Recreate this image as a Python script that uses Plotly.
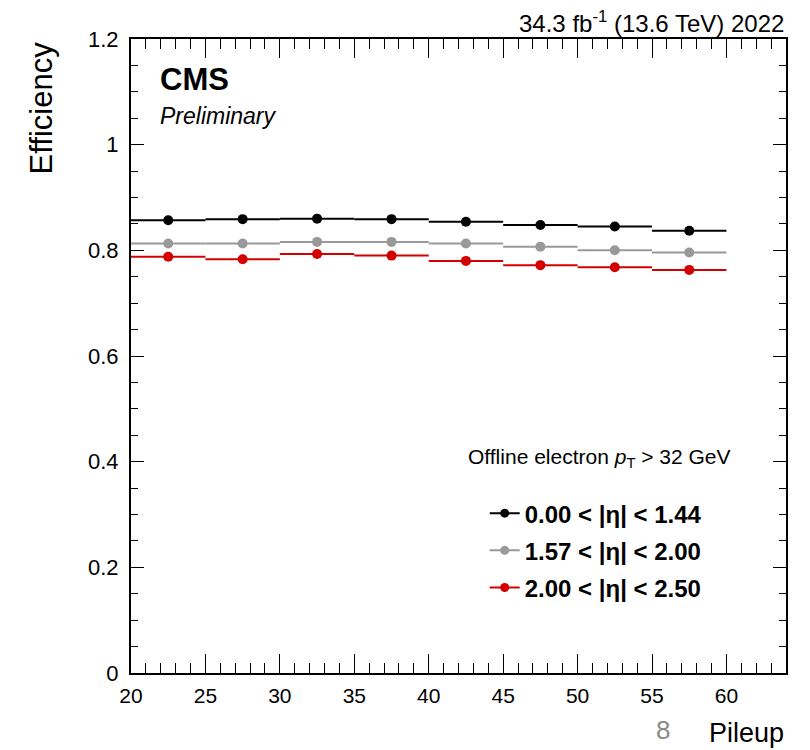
import plotly.graph_objects as go

# ---- data ----
bin_edges = [20, 25, 30, 35, 40, 45, 50, 55, 60]
eff_barrel = [0.857, 0.859, 0.860, 0.859, 0.854, 0.848, 0.845, 0.837]
eff_mid = [0.813, 0.813, 0.816, 0.816, 0.813, 0.807, 0.800, 0.796]
eff_fwd = [0.788, 0.783, 0.793, 0.790, 0.780, 0.772, 0.768, 0.763]
series_names = ["0.00 < |η| < 1.44", "1.57 < |η| < 2.00", "2.00 < |η| < 2.50"]
series_colors = ["#000000", "#999999", "#d40000"]
y_tick_vals = [0, 0.2, 0.4, 0.6, 0.8, 1.0, 1.2]
y_tick_text = ["0", "0.2", "0.4", "0.6", "0.8", "1", "1.2"]
x_tick_vals = [20, 25, 30, 35, 40, 45, 50, 55, 60]

centers = [(a + b) / 2 for a, b in zip(bin_edges[:-1], bin_edges[1:])]
halfw = [(b - a) / 2 for a, b in zip(bin_edges[:-1], bin_edges[1:])]

FONT = "Liberation Sans, Arial, Helvetica, sans-serif"

fig = go.Figure()
for i, (vals, name, col) in enumerate(zip([eff_barrel, eff_mid, eff_fwd], series_names, series_colors)):
    fig.add_trace(go.Scatter(
        x=centers, y=vals, mode="markers",
        marker=dict(color=col, size=10),
        error_x=dict(type="data", array=halfw, width=0, thickness=2, color=col),
        showlegend=False, hoverinfo="x+y",
    ))
    fig.add_trace(go.Scatter(
        x=[None], y=[None], mode="lines+markers", name="<b>" + name + "</b>",
        marker=dict(color=col, size=9), line=dict(color=col, width=2),
        legendgroup=f"g{i}",
    ))

fig.update_layout(
    width=810, height=750,
    margin=dict(l=131, r=24, t=39, b=77),
    plot_bgcolor="white", paper_bgcolor="white",
    font=dict(family=FONT, size=21, color="black"),
    showlegend=True,
    legend=dict(
        x=0.54, y=0.287, xanchor="left", yanchor="top",
        font=dict(size=24, family=FONT, color="black"),
        bgcolor="rgba(0,0,0,0)", tracegroupgap=3,
        traceorder="grouped",
    ),
    xaxis=dict(
        range=[20, 64], tickvals=x_tick_vals, ticks="inside", ticklen=19,
        tickwidth=1, tickcolor="black", showline=True, linecolor="black",
        linewidth=2, mirror="ticks", showgrid=False, zeroline=False,
        tickfont=dict(size=21, family=FONT), ticklabelstandoff=3,
        minor=dict(dtick=1, ticks="inside", ticklen=10, tickcolor="black", tickwidth=1, showgrid=False),
    ),
    yaxis=dict(
        range=[0, 1.2], tickvals=y_tick_vals, ticktext=y_tick_text,
        ticks="inside", ticklen=13, tickwidth=1, tickcolor="black",
        showline=True, linecolor="black", linewidth=2, mirror="ticks",
        showgrid=False, zeroline=False, tickfont=dict(size=22, family=FONT),
        ticklabelstandoff=6,
        minor=dict(dtick=0.05, ticks="inside", ticklen=7, tickcolor="black", tickwidth=1, showgrid=False),
    ),
)

ann = [
    dict(text="<b>CMS</b>", x=158, y=79, size=31),
    dict(text="<i>Preliminary</i>", x=158, y=116, size=23),
]
for a in ann:
    fig.add_annotation(xref="paper", yref="paper",
                       x=(a["x"] - 131) / 655, y=1 - (a["y"] - 39) / 634,
                       xanchor="left", yanchor="middle", showarrow=False,
                       font=dict(family=FONT, size=a["size"], color="black"),
                       text=a["text"])

fig.add_annotation(xref="paper", yref="paper", x=1, y=1, xanchor="right", yanchor="bottom",
                   yshift=0, showarrow=False,
                   text="34.3 fb<sup>-1</sup> (13.6 TeV) 2022",
                   font=dict(family=FONT, size=24, color="black"))
fig.add_annotation(xref="paper", yref="paper", x=(466 - 131) / 655, y=1 - (458 - 39) / 634,
                   xanchor="left", yanchor="middle", showarrow=False,
                   text="Offline electron <i>p</i><sub>T</sub> > 32 GeV",
                   font=dict(family=FONT, size=21, color="black"))
fig.add_annotation(xref="paper", yref="paper", x=-0.136, y=1, xanchor="center", yanchor="top",
                   textangle=-90, showarrow=False, text="Efficiency",
                   font=dict(family=FONT, size=31, color="black"))
fig.add_annotation(xref="paper", yref="paper", x=1, y=-0.068, xanchor="right", yanchor="top",
                   showarrow=False, text="Pileup",
                   font=dict(family=FONT, size=27, color="black"))
fig.add_annotation(xref="paper", yref="paper", x=(663 - 131) / 655, y=-0.063, xanchor="center", yanchor="top",
                   showarrow=False, text="8",
                   font=dict(family=FONT, size=26, color="#888888"))

fig.write_html("out.html")
